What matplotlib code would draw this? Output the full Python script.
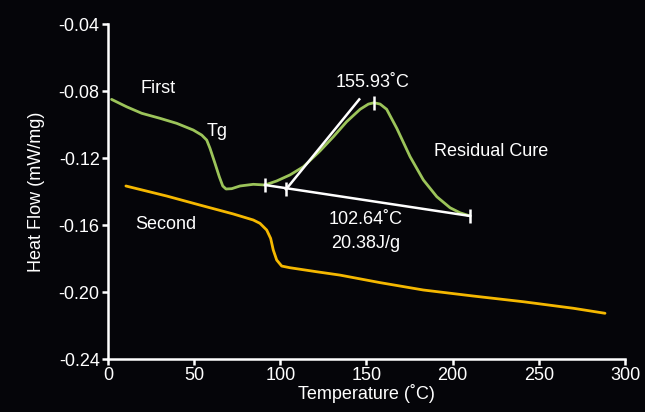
import matplotlib
matplotlib.use("Agg")
import matplotlib.pyplot as plt
from matplotlib import font_manager

# ---- data ----
first_x = [2.1, 10.8, 19.6, 30.2, 39.9, 49.5, 54.4, 57.3, 59.2, 62.1, 64.6, 66.6, 68.5, 71.8,
           76.6, 84.3, 91.1, 97.9, 105.6, 113.4, 123.0, 130.8, 138.5, 146.3, 151.1, 154.4,
           157.9, 161.7, 167.6, 175.3, 183.0, 190.8, 198.5, 204.3, 210.1]
first_y = [-0.0850, -0.0894, -0.0933, -0.0963, -0.0993, -0.1033, -0.1063, -0.1093, -0.1142,
           -0.1232, -0.1312, -0.1367, -0.1385, -0.1383, -0.1367, -0.1357, -0.1361, -0.1337,
           -0.1301, -0.1252, -0.1158, -0.1073, -0.0983, -0.0909, -0.0878, -0.0870, -0.0878,
           -0.0909, -0.1023, -0.1192, -0.1331, -0.1431, -0.1497, -0.1527, -0.1546]

second_x = [10.4, 34.1, 53.4, 72.7, 84.3, 88.2, 92.1, 94.4, 95.9, 97.9, 100.8, 105.6, 121.1,
            134.6, 157.9, 183.0, 212.0, 241.0, 270.0, 288.4]
second_y = [-0.1367, -0.1427, -0.1481, -0.1534, -0.1570, -0.1590, -0.1630, -0.1680, -0.1749,
            -0.1809, -0.1845, -0.1855, -0.1879, -0.1899, -0.1944, -0.1988, -0.2024, -0.2058,
            -0.2097, -0.2127]

baseline_x = [91.1, 210.1]
baseline_y = [-0.1361, -0.1546]
tangent_x = [103.3, 145.8]
tangent_y = [-0.1387, -0.0850]
marker_x = [91.1, 103.3, 154.4, 210.1]
marker_y = [-0.1361, -0.1387, -0.0870, -0.1546]

xticks = [0, 50, 100, 150, 200, 250, 300]
yticks = [-0.24, -0.20, -0.16, -0.12, -0.08, -0.04]
ytick_labels = ["-0.24", "-0.20", "-0.16", "-0.12", "-0.08", "-0.04"]

# ---- style ----
avail = {f.name for f in font_manager.fontManager.ttflist}
fam = "Liberation Sans Narrow" if "Liberation Sans Narrow" in avail else "Liberation Sans"
plt.rcParams['font.family'] = [fam, 'DejaVu Sans']

BG = "#050509"
GREEN = "#9cc45a"
ORANGE = "#f5b800"
W = "white"

fig = plt.figure(figsize=(6.45, 4.12), dpi=100, facecolor=BG)
ax = fig.add_axes([0.1674, 0.1286, 0.969 - 0.1674, 0.9417 - 0.1286], facecolor=BG)

ax.plot(first_x, first_y, color=GREEN, lw=2.0, solid_joinstyle='round', solid_capstyle='round')
ax.plot(second_x, second_y, color=ORANGE, lw=2.0, solid_joinstyle='round', solid_capstyle='round')
ax.plot(baseline_x, baseline_y, color=W, lw=1.8)
ax.plot(tangent_x, tangent_y, color=W, lw=1.8)
ax.plot(marker_x, marker_y, linestyle='none', marker='|', markersize=10,
        markeredgewidth=1.8, color=W)

ax.set_xlim(0, 300)
ax.set_ylim(-0.24, -0.04)
ax.set_xticks(xticks)
ax.set_yticks(yticks)
ax.set_yticklabels(ytick_labels)

for s in ['top', 'right']:
    ax.spines[s].set_visible(False)
for s in ['left', 'bottom']:
    ax.spines[s].set_color(W)
    ax.spines[s].set_linewidth(1.8)
ax.tick_params(colors=W, labelsize=13, length=4, width=1.8, direction='out', pad=2)
for lab in ax.get_xticklabels() + ax.get_yticklabels():
    lab.set_color(W)

ax.set_xlabel("Temperature (˚C)", color=W, fontsize=13, labelpad=0)
ax.set_ylabel("Heat Flow (mW/mg)", color=W, fontsize=13, labelpad=10)

fs = 13
ax.text(29, -0.0782, "First", color=W, fontsize=fs, ha='center', va='center')
ax.text(63.3, -0.1039, "Tg", color=W, fontsize=fs, ha='center', va='center')
ax.text(153.8, -0.0752, "155.93˚C", color=W, fontsize=fs, ha='center', va='center')
ax.text(222.3, -0.1164, "Residual Cure", color=W, fontsize=fs, ha='center', va='center')
ax.text(149.7, -0.1570, "102.64˚C", color=W, fontsize=fs, ha='center', va='center')
ax.text(149.7, -0.1708, "20.38J/g", color=W, fontsize=fs, ha='center', va='center')
ax.text(33.7, -0.1594, "Second", color=W, fontsize=fs, ha='center', va='center')

fig.savefig("out.png", dpi=100, facecolor=BG)
